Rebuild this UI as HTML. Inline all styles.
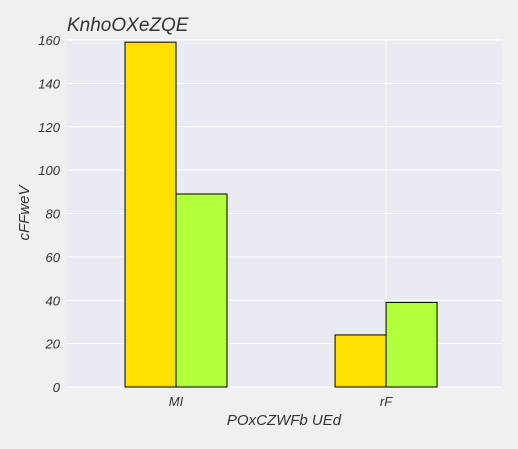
<!DOCTYPE html>
<html><head><meta charset="utf-8"><style>
body{margin:0;background:#f0f0f0;}
svg text{font-family:"Liberation Sans",sans-serif;font-style:italic;fill:#333;}
</style></head><body>
<svg id="chart" width="518" height="444">
<rect x="0" y="0" width="518" height="444" fill="#f0f0f0"/>
<rect x="67" y="40" width="435" height="347" fill="#eaeaf2"/>
<g id="grid"></g><g id="bars"></g><g id="axes"></g>
<text x="67" y="31" font-size="19">KnhoOXeZQE</text>
<text x="284" y="425" font-size="15" text-anchor="middle">POxCZWFb UEd</text>
<text x="29" y="213" font-size="15" text-anchor="middle" transform="rotate(-90 29 213)">cFFweV</text>
</svg>
<script>
const categories=["MI","rF"];
const series1=[159,24];
const series2=[89,39];
const yTicks=[0,20,40,60,80,100,120,140,160];
const ns="http://www.w3.org/2000/svg";
const L=67,R=502,T=40,B=387;
const XMIN=-0.519,XMAX=1.552;
function y(v){return B-(v/160)*(B-T);}
function x(i){return L+(R-L)*(i-XMIN)/(XMAX-XMIN);}
function mk(tag,attrs,parent){const e=document.createElementNS(ns,tag);for(const k in attrs)e.setAttribute(k,attrs[k]);document.getElementById(parent).appendChild(e);return e;}
yTicks.forEach(t=>{
 const g=mk("line",{x1:L,x2:R,y1:y(t),y2:y(t),stroke:"#fff","stroke-width":1},"grid");
 
 
 const lb=mk("text",{x:L-7,y:y(t)+5,"font-size":13,"text-anchor":"end"},"axes");
 lb.textContent=t;
 
 
});
categories.forEach((c,i)=>{
 const g=mk("line",{x1:x(i),x2:x(i),y1:T,y2:B,stroke:"#fff","stroke-width":1},"grid");
 
 
 const bw=51;
 const b1=mk("rect",{x:x(i)-bw,y:y(series1[i]),width:bw,height:B-y(series1[i]),fill:"#ffe100",stroke:"#000","stroke-width":1},"bars");
 
 
 const b2=mk("rect",{x:x(i),y:y(series2[i]),width:bw,height:B-y(series2[i]),fill:"#b2ff3c",stroke:"#000","stroke-width":1},"bars");
 
 
 const lb=mk("text",{x:x(i),y:B+19,"font-size":13,"text-anchor":"middle"},"axes");
 lb.textContent=c;
 
 
});
</script>
</body></html>
